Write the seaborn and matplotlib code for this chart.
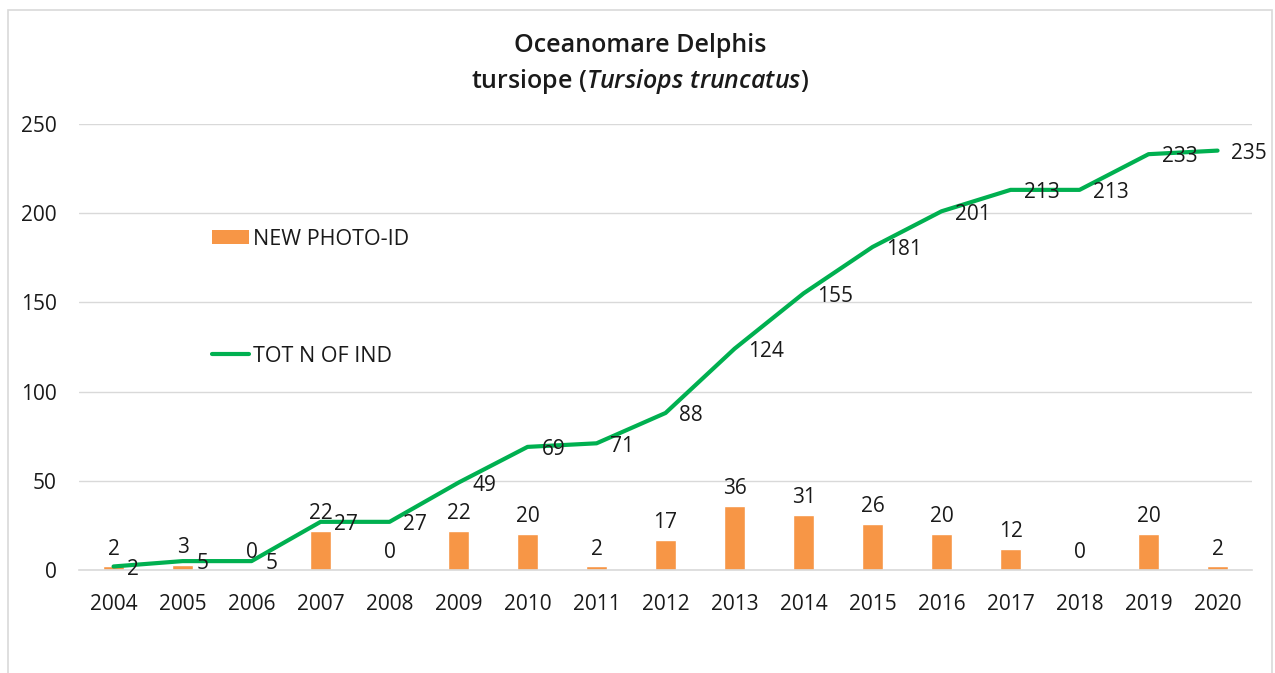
import matplotlib
matplotlib.use('Agg')
import matplotlib.pyplot as plt
import seaborn as sns
import numpy as np
from matplotlib.patches import Rectangle
from matplotlib.lines import Line2D

# Data
years = ['2004', '2005', '2006', '2007', '2008', '2009', '2010', '2011', '2012',
         '2013', '2014', '2015', '2016', '2017', '2018', '2019', '2020']
new_photo_id = [2, 3, 0, 22, 0, 22, 20, 2, 17, 36, 31, 26, 20, 12, 0, 20, 2]
tot_n_of_ind = [2, 5, 5, 27, 27, 49, 69, 71, 88, 124, 155, 181, 201, 213, 213, 233, 235]

bar_color = '#F79646'
line_color = '#00B050'
grid_color = '#D9D9D9'
text_color = '#1A1A1A'
fs = 15

sns.set_theme(style='white')
plt.rcParams['font.family'] = ['Open Sans', 'DejaVu Sans']
plt.rcParams['mathtext.fontset'] = 'custom'
plt.rcParams['mathtext.rm'] = 'Open Sans:semibold'
plt.rcParams['mathtext.it'] = 'Open Sans:italic:semibold'
plt.rcParams['text.color'] = text_color

fig = plt.figure(figsize=(12.75, 6.73), dpi=100)
ax = fig.add_axes([0.062, 0.153, 0.920, 0.663])

# outer chart frame
fig.patches.append(Rectangle((8 / 1275, -0.02), 1264 / 1275, 1 - 10 / 673 + 0.02,
                             transform=fig.transFigure, fill=False,
                             edgecolor=grid_color, linewidth=1.2))

sns.barplot(x=years, y=new_photo_id, color=bar_color, width=0.3,
            saturation=1, ax=ax, zorder=2)
x_pos = np.arange(len(years))
sns.lineplot(x=x_pos, y=tot_n_of_ind, color=line_color, linewidth=3,
             ax=ax, zorder=3)

# value labels
ax.bar_label(ax.containers[0], labels=[str(v) for v in new_photo_id],
             padding=5, fontsize=fs, color=text_color)
for xi, v in zip(x_pos, tot_n_of_ind):
    ax.annotate(str(v), (xi, v), xytext=(10, -2), textcoords='offset points',
                ha='left', va='center', fontsize=fs, color=text_color, zorder=4)

ax.set_xlim(-0.5, len(years) - 0.5)
ax.set_ylim(0, 250)
ax.set_yticks(range(0, 251, 50))
ax.yaxis.grid(True, color=grid_color, linewidth=1)
ax.set_axisbelow(True)
ax.set_xlabel('')
ax.set_ylabel('')

for side in ['top', 'right', 'left']:
    ax.spines[side].set_visible(False)
ax.spines['bottom'].set_color(grid_color)
ax.spines['bottom'].set_linewidth(1.2)

ax.set_xticks(x_pos)
ax.set_xticklabels(years)
ax.set_xticks(np.arange(-0.5, len(years), 1), minor=True)
ax.tick_params(axis='x', which='major', length=0, pad=17, labelsize=fs,
               labelcolor=text_color)
ax.tick_params(axis='x', which='minor', length=6, width=1.2, color=grid_color,
               direction='out')
ax.tick_params(axis='y', length=0, pad=16, labelsize=fs, labelcolor=text_color)

# legend
handles = [Rectangle((0, 0), 1, 1, facecolor=bar_color, edgecolor='none'),
           Line2D([0], [0], color=line_color, linewidth=3)]
leg = ax.legend(handles, ['NEW PHOTO-ID', 'TOT N OF IND'],
                loc='upper left', bbox_to_anchor=(201 / 1275, 1 - 218 / 673),
                bbox_transform=fig.transFigure, frameon=False,
                fontsize=15.5, handlelength=1.75, handleheight=0.6,
                handletextpad=0.15, labelspacing=4.45, borderpad=0)

# title
fig.text(640 / 1275, 1 - 46 / 673, 'Oceanomare Delphis', ha='center', va='center',
         fontsize=18, fontweight='semibold')
fig.text(640 / 1275, 1 - 81 / 673, r'tursiope ($\mathit{Tursiops\ truncatus}$)',
         ha='center', va='center', fontsize=18, fontweight='semibold')

fig.savefig('out.png', dpi=100, facecolor='white')
